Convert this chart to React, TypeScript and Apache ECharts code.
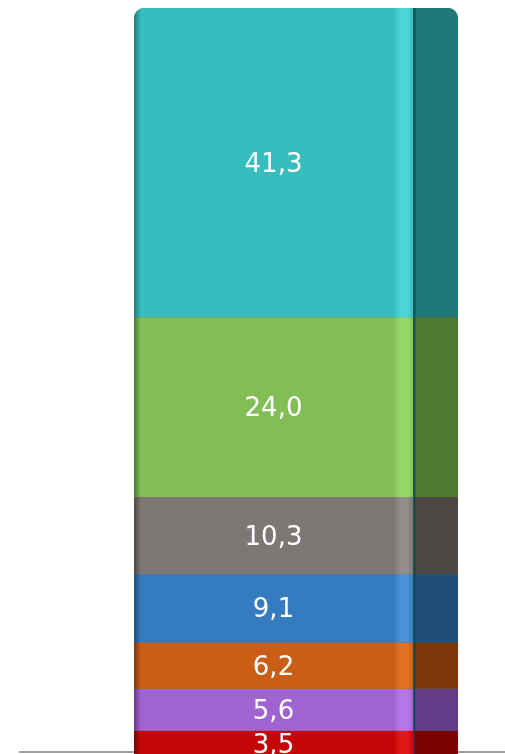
import React, { useEffect, useRef } from "react";
import * as echarts from "echarts";

const categories = ["Total"];
const segmentNames = ["A", "B", "C", "D", "E", "F", "G"];
const segmentValues = [3.5, 5.6, 6.2, 9.1, 10.3, 24.0, 41.3];
const frontColors = ["#C50606", "#A064D2", "#CA5E17", "#357BBF", "#7D7876", "#82BE55", "#38BDBE"];
const sideColors = ["#7B0000", "#643B86", "#7D370B", "#1F4C78", "#4C4846", "#4E7A34", "#217878"];
const highlightColors = ["#E01818", "#B677E8", "#E47225", "#4A93D8", "#928C8A", "#98D86A", "#4DD6D8"];

export default function App() {
  const ref = useRef<HTMLDivElement>(null);
  useEffect(() => {
    if (!ref.current) return;
    const chart = echarts.init(ref.current, null, { renderer: "svg" });
    const n = segmentValues.length;
    const front = segmentValues.map((v, i) => ({
      name: segmentNames[i],
      type: "bar",
      stack: "front",
      barWidth: 279,
      barGap: "0%",
      data: [v],
      showBackground: i === 0,
      backgroundStyle: { color: "#6a6a6a", borderRadius: [10, 0, 0, 0] },
      label: {
        show: true,
        position: "inside",
        color: "#ffffff",
        fontFamily: "DejaVu Sans",
        fontSize: 26,
        formatter: (p: any) => Number(p.value).toFixed(1).replace(".", ","),
      },
      itemStyle: {
        borderRadius: i === n - 1 ? [10, 0, 0, 0] : 0,
        color: new echarts.graphic.LinearGradient(0, 0, 1, 0, [
          { offset: 0, color: sideColors[i] },
          { offset: 0.025, color: frontColors[i] },
          { offset: 0.93, color: frontColors[i] },
          { offset: 0.955, color: highlightColors[i] },
          { offset: 0.98, color: highlightColors[i] },
          { offset: 1, color: frontColors[i] },
        ]),
      },
    }));
    const side = segmentValues.map((v, i) => ({
      name: segmentNames[i] + "_side",
      type: "bar",
      stack: "side",
      barWidth: 45,
      barGap: "0%",
      data: [v],
      showBackground: i === 0,
      backgroundStyle: { color: sideColors[6], borderRadius: [0, 10, 0, 0] },
      itemStyle: {
        borderRadius: i === n - 1 ? [0, 10, 0, 0] : 0,
        color: new echarts.graphic.LinearGradient(0, 0, 1, 0, [
          { offset: 0, color: "#00000030" },
          { offset: 0.07, color: sideColors[i] },
          { offset: 1, color: sideColors[i] },
        ]),
      },
    }));
    chart.setOption({
      animation: false,
      grid: { left: 134, right: 47, top: 8, bottom: 3 },
      xAxis: {
        type: "category",
        data: categories,
        show: false,
      },
      yAxis: {
        type: "value",
        min: 0,
        max: 100,
        show: false,
      },
      graphic: [
        {
          type: "line",
          z: 0,
          shape: { x1: 19, y1: 752, x2: 505, y2: 752 },
          style: { stroke: "#A0A0A0", lineWidth: 2 },
        },
      ],
      series: [...front, ...side],
    });
    return () => chart.dispose();
  }, []);
  return (
    <div style={{ position: "fixed", left: 0, top: 0, width: 505, height: 754, overflow: "hidden" }}>
      <div ref={ref} style={{ width: 505, height: 760 }} />
    </div>
  );
}
